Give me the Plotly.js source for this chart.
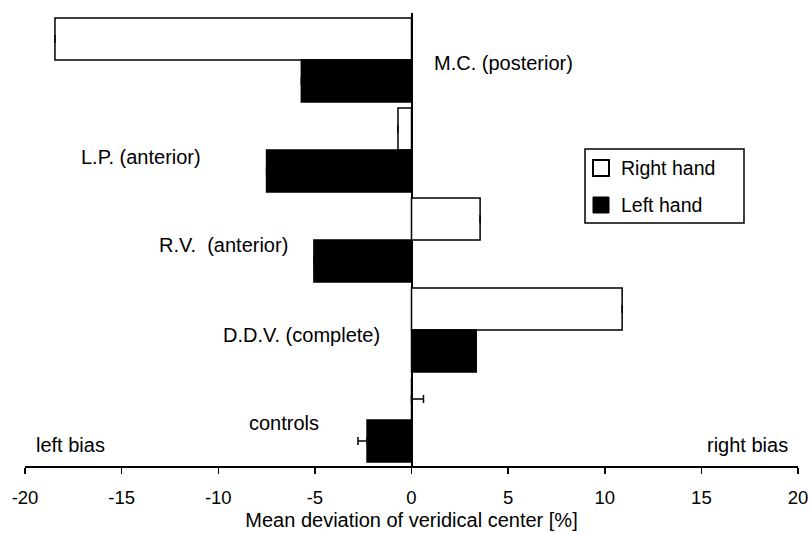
<!DOCTYPE html>
<html>
<head>
<meta charset="utf-8">
<script src="https://cdn.plot.ly/plotly-3.0.1.min.js"></script>
<style>html,body{margin:0;padding:0;background:#fff;}#chart{width:809px;height:534px;}</style>
</head>
<body>
<div id="chart"></div>
<script>
// Data (top to bottom)
var categories = ["M.C. (posterior)", "L.P. (anterior)", "R.V.  (anterior)", "D.D.V. (complete)", "controls"];
var seriesNames = ["Right hand", "Left hand"];
var rightHand = [-18.45, -0.7, 3.55, 10.9, 0];
var leftHand = [-5.7, -7.5, -5.05, 3.35, -2.3];
var rightErrPlus = [0, 0, 0, 0, 0.62];
var leftErrMinus = [0, 0, 0, 0, 0.47];
var xTicks = [-20, -15, -10, -5, 0, 5, 10, 15, 20];

var W = 809, H = 534, M = {l: 25, r: 11, t: 13, b: 68};
var yPos = categories.map(function (c, i) { return i; });
var FONT = '"Liberation Sans", Arial, Helvetica, sans-serif';
var zeros = categories.map(function () { return 0; });
function px(x) { return (x - M.l) / (W - M.l - M.r); }
function py(y) { return 1 - (y - M.t) / (H - M.t - M.b); }

var traceRight = {
  type: 'bar', orientation: 'h', name: seriesNames[0],
  x: rightHand, y: yPos, showlegend: false,
  marker: {color: '#ffffff', line: {color: '#000000', width: 1.5}},
  error_x: {type: 'data', symmetric: false, array: rightErrPlus,
            arrayminus: zeros, color: '#000000', thickness: 1.5, width: 4},
  hoverinfo: 'x'
};
var traceLeft = {
  type: 'bar', orientation: 'h', name: seriesNames[1],
  x: leftHand, y: yPos, showlegend: false,
  marker: {color: '#000000', line: {color: '#000000', width: 1.5}},
  error_x: {type: 'data', symmetric: false, array: zeros,
            arrayminus: leftErrMinus, color: '#000000', thickness: 1.5, width: 4},
  hoverinfo: 'x'
};

function ann(text, x, y, xanchor) {
  return {text: text, x: x, y: y, xref: 'x', yref: 'y', xanchor: xanchor, yanchor: 'middle',
          showarrow: false, font: {family: FONT, size: 20, color: '#000'}};
}

var annotations = [
  ann(categories[0], 1.05, 0 + 0.03, 'left'),
  ann(categories[1], -10.8, 1 + 0.08, 'right'),
  ann(categories[2], -6.3, 2 + 0.06, 'right'),
  ann(categories[3], -1.55, 3 + 0.06, 'right'),
  ann(categories[4], -4.7, 4 + 0.03, 'right'),
  ann('left bias', -19.55, 4.28, 'left'),
  ann('right bias', 19.6, 4.28, 'right'),
  // legend texts
  {text: seriesNames[0], x: px(619), y: py(168), xref: 'paper', yref: 'paper', xanchor: 'left', yanchor: 'middle',
   showarrow: false, font: {family: FONT, size: 19.5, color: '#000'}},
  {text: seriesNames[1], x: px(619), y: py(205), xref: 'paper', yref: 'paper', xanchor: 'left', yanchor: 'middle',
   showarrow: false, font: {family: FONT, size: 19.5, color: '#000'}}
];

var shapes = [
  {type: 'rect', xref: 'paper', yref: 'paper', x0: px(585), x1: px(744), y0: py(149), y1: py(223),
   line: {color: '#000', width: 1.5}, fillcolor: '#ffffff', layer: 'above'},
  {type: 'rect', xref: 'paper', yref: 'paper', x0: px(593), x1: px(609), y0: py(160), y1: py(176),
   line: {color: '#000', width: 2}, fillcolor: '#ffffff', layer: 'above'},
  {type: 'rect', xref: 'paper', yref: 'paper', x0: px(593), x1: px(609), y0: py(197), y1: py(213),
   line: {color: '#000', width: 1}, fillcolor: '#000000', layer: 'above'}
];

var layout = {
  width: W, height: H,
  margin: M,
  paper_bgcolor: '#ffffff', plot_bgcolor: '#ffffff',
  font: {family: FONT, size: 19, color: '#000000'},
  barmode: 'group', bargap: 0.067, bargroupgap: 0,
  showlegend: false,
  xaxis: {
    range: [-20, 20], tickvals: xTicks, ticktext: xTicks.map(String),
    showgrid: false, zeroline: true, zerolinecolor: '#000000', zerolinewidth: 2,
    showline: true, linecolor: '#000000', linewidth: 2,
    ticks: 'outside', ticklen: 6, tickwidth: 1.5, tickcolor: '#000000',
    ticklabelstandoff: 8, ticklabeloverflow: 'allow',
    tickfont: {family: FONT, size: 18.5, color: '#000'},
    title: {text: 'Mean deviation of veridical center [%]', font: {family: FONT, size: 20, color: '#000'}, standoff: 6},
    fixedrange: true
  },
  yaxis: {
    range: [4.511, -0.522], showgrid: false, zeroline: false, showline: false,
    showticklabels: false, ticks: '', fixedrange: true
  },
  shapes: shapes,
  annotations: annotations
};

Plotly.newPlot('chart', [traceRight, traceLeft], layout, {displayModeBar: false, staticPlot: true});
</script>
</body>
</html>
